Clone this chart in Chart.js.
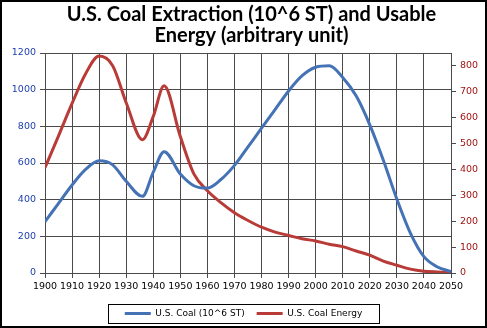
<!DOCTYPE html>
<html>
<head>
<meta charset="utf-8">
<script src="https://cdn.jsdelivr.net/npm/chart.js@4.4.1/dist/chart.umd.min.js"></script>
<style>
  html, body { margin: 0; padding: 0; background: #fff; }
  #wrap { width: 487px; height: 328px; position: relative; }
</style>
</head>
<body>
<div id="wrap"><canvas id="chart"></canvas></div>
<script>
// years of the data points (denser round the peaks)
const years = [1900, 1905, 1910, 1915, 1920, 1925, 1930, 1936, 1940, 1944, 1950, 1955,
  1960, 1965, 1970, 1975, 1980, 1985, 1990, 1995, 2000, 2005, 2010, 2015, 2020,
  2025, 2030, 2035, 2040, 2045, 2050];

// U.S. coal extraction, 10^6 short tons (left axis)
const coalExtraction = [280, 380, 480, 565, 612, 590, 500, 418, 550, 662, 540, 476,
  463, 510, 587, 688, 790, 891, 993, 1076, 1122, 1130, 1067, 965, 808,
  615, 403, 218, 89, 33, 8];

// U.S. coal usable energy, arbitrary unit (right axis)
const coalEnergy = [407, 530, 655, 770, 838, 801, 658, 515, 605, 723, 527, 383,
  318, 272, 233, 203, 177, 158, 145, 132, 124, 111, 102, 85, 69,
  46, 30, 15, 7, 4, 2];

const seriesNames = ['U.S. Coal (10^6 ST)', 'U.S. Coal Energy'];
const titleLines = ['U.S. Coal Extraction (10^6 ST) and Usable', 'Energy (arbitrary unit)'];

const blue = '#4472b4';
const red = '#b83b38';
const gridColor = '#4a4a4a';

// virsrakstu pabīda nedaudz pa labi, rāmis ap attēlu un ap leģendu
const framePlugin = {
  id: 'frame',
  afterLayout(chart) {
    chart.titleBlock.left += 8;
    chart.titleBlock.right += 8;
  },
  afterDraw(chart) {
    const ctx = chart.ctx;
    ctx.save();
    ctx.strokeStyle = '#000';
    ctx.lineWidth = 2;
    ctx.strokeRect(1, 1, chart.width - 2, chart.height - 2);

    const boxes = chart.legend.legendHitBoxes;
    if (boxes && boxes.length) {
      const left = Math.min(...boxes.map(b => b.left)) - 17;
      const right = Math.max(...boxes.map(b => b.left + b.width)) + 17;
      const top = Math.min(...boxes.map(b => b.top)) - 5;
      const bottom = Math.max(...boxes.map(b => b.top + b.height)) + 5;
      ctx.lineWidth = 1;
      ctx.strokeRect(Math.round(left) + 0.5, Math.round(top) + 0.5, Math.round(right - left), Math.round(bottom - top));
    }
    ctx.restore();
  }
};

const ctx = document.getElementById('chart');
new Chart(ctx, {
  type: 'line',
  data: {
    datasets: [
      {
        label: seriesNames[0],
        data: years.map((y, i) => ({ x: y, y: coalExtraction[i] })),
        borderColor: blue,
        backgroundColor: blue,
        borderWidth: 3,
        pointRadius: 0,
        cubicInterpolationMode: 'monotone',
        yAxisID: 'y'
      },
      {
        label: seriesNames[1],
        data: years.map((y, i) => ({ x: y, y: coalEnergy[i] })),
        borderColor: red,
        backgroundColor: red,
        borderWidth: 3,
        pointRadius: 0,
        cubicInterpolationMode: 'monotone',
        yAxisID: 'y1'
      }
    ]
  },
  options: {
    responsive: true,
    maintainAspectRatio: false,
    animation: false,
    layout: { padding: { left: 0, right: 0, top: 0, bottom: 0 } },
    plugins: {
      title: {
        display: true,
        text: titleLines,
        color: '#000',
        font: { family: 'Lato', size: 20, weight: 'bold', lineHeight: 1.05 },
        padding: { top: 4, bottom: 7 }
      },
      legend: {
        position: 'bottom',
        labels: {
          color: '#000',
          font: { family: 'DejaVu Sans', size: 9 },
          boxWidth: 26,
          boxHeight: 3,
          padding: 12,
          generateLabels(chart) {
            return Chart.defaults.plugins.legend.labels.generateLabels(chart).map(l => {
              l.lineWidth = 0;
              return l;
            });
          }
        }
      },
      tooltip: { enabled: false }
    },
    scales: {
      x: {
        type: 'linear',
        min: 1900,
        max: 2050,
        ticks: {
          stepSize: 10,
          autoSkip: false,
          maxRotation: 0,
          color: '#000',
          font: { family: 'DejaVu Sans', size: 9.5 },
          padding: 3,
          callback: v => String(v)
        },
        grid: { display: true, drawOnChartArea: true, color: gridColor, lineWidth: 1, tickLength: 5 },
        border: { color: gridColor, width: 1 },
        afterFit(scale) { scale.height = 24; }
      },
      y: {
        position: 'left',
        min: 0,
        max: 1200,
        ticks: {
          stepSize: 200,
          color: '#1c3fae',
          font: { family: 'DejaVu Sans', size: 9.5 },
          padding: 4,
          callback: v => String(v)
        },
        grid: { display: true, drawOnChartArea: true, color: gridColor, lineWidth: 1, tickLength: 5 },
        border: { color: gridColor, width: 1 },
        afterFit(scale) { scale.width = 45; }
      },
      y1: {
        position: 'right',
        min: 0,
        max: 850,
        ticks: {
          stepSize: 50,
          color: '#a01414',
          font: { family: 'DejaVu Sans', size: 9.5 },
          padding: 4,
          callback: v => String(v)
        },
        grid: { drawOnChartArea: false, color: gridColor, lineWidth: 1, tickLength: 5 },
        border: { color: gridColor, width: 1 },
        afterFit(scale) { scale.width = 36; }
      }
    }
  },
  plugins: [framePlugin]
});
</script>
</body>
</html>
